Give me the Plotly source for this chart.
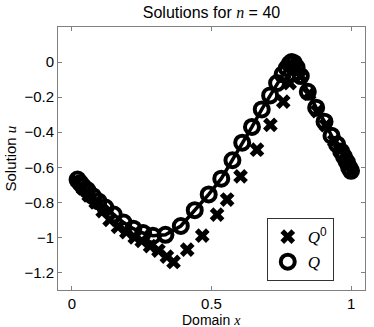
import plotly.graph_objects as go

# adapted mesh Q: positions and solution values
q_x = [0.020, 0.030, 0.040, 0.055, 0.075, 0.095, 0.120, 0.150, 0.185, 0.220,
       0.255, 0.290, 0.335, 0.390, 0.440, 0.490, 0.535, 0.575, 0.610, 0.645,
       0.680, 0.710, 0.735, 0.755, 0.770, 0.780, 0.787, 0.795, 0.805, 0.820,
       0.845, 0.875, 0.905, 0.930, 0.950, 0.965, 0.975, 0.985, 0.993, 1.000]
q_u = [-0.67, -0.69, -0.71, -0.73, -0.765, -0.795, -0.83, -0.87, -0.915, -0.95,
       -0.975, -0.99, -0.985, -0.935, -0.845, -0.755, -0.665, -0.56, -0.46, -0.37,
       -0.27, -0.19, -0.12, -0.07, -0.035, -0.01, 0.0, -0.005, -0.03, -0.08,
       -0.17, -0.26, -0.34, -0.42, -0.47, -0.51, -0.54, -0.57, -0.60, -0.62]

# initial mesh Q^0
q0_x = [0.020, 0.040, 0.060, 0.085, 0.110, 0.135, 0.165, 0.195, 0.225, 0.250,
        0.280, 0.310, 0.340, 0.364, 0.413, 0.467, 0.520, 0.556, 0.604, 0.663,
        0.711, 0.757, 0.780, 0.790, 0.800, 0.820, 0.850, 0.880, 0.910, 0.940,
        0.960, 0.980, 1.000]
q0_u = [-0.68, -0.72, -0.76, -0.80, -0.85, -0.90, -0.94, -0.97, -1.00, -1.02,
        -1.05, -1.075, -1.11, -1.14, -1.07, -0.99, -0.87, -0.784, -0.652, -0.50,
        -0.358, -0.226, -0.12, -0.03, -0.02, -0.08, -0.18, -0.28, -0.36, -0.45,
        -0.50, -0.56, -0.62]

x_ticks = [0, 0.5, 1]
y_ticks = [0, -0.2, -0.4, -0.6, -0.8, -1, -1.2]


def math(s):
    # LaTeX-like italic serif for math symbols
    return f"<span style='font-family:Liberation Serif'><i>{s}</i></span>"


fig = go.Figure()

fig.add_trace(go.Scatter(x=q_x, y=q_u, mode='lines', showlegend=False,
                         line=dict(color='black', width=3.5)))
fig.add_trace(go.Scatter(x=q0_x, y=q0_u, mode='markers', name=math('Q') + '<sup>0</sup>',
                         marker=dict(symbol='x', size=13, color='black',
                                     line=dict(width=0))))
fig.add_trace(go.Scatter(x=q_x, y=q_u, mode='markers', name=math('Q'),
                         marker=dict(symbol='circle-open', size=14, color='black',
                                     line=dict(width=4))))

axis_common = dict(showgrid=False, zeroline=False, showline=True, mirror='ticks',
                   linecolor='#7f7f7f', linewidth=1, ticks='inside', ticklen=4,
                   tickcolor='#7f7f7f', tickfont=dict(size=15, color='black'))

fig.update_layout(
    width=374, height=327,
    font=dict(family='Liberation Sans', size=15, color='black'),
    paper_bgcolor='white', plot_bgcolor='white',
    margin=dict(l=58, r=9, t=27, b=37),
    title=dict(text='Solutions for ' + math('n') + ' = 40', x=0.5, xref='paper',
               xanchor='center', y=0.963, yanchor='middle', font=dict(size=16)),
    xaxis=dict(range=[-0.05, 1.05], tickvals=x_ticks, **axis_common),
    yaxis=dict(range=[-1.3, 0.2], tickvals=y_ticks, **axis_common),
    legend=dict(x=0.68, y=0.034, xanchor='left', yanchor='bottom',
                bgcolor='white', bordercolor='#333333', borderwidth=1,
                font=dict(size=17), itemwidth=30, tracegroupgap=0),
    annotations=[
        dict(text='Domain ' + math('x'), xref='paper', yref='paper', x=0.5, y=0,
             xanchor='center', yanchor='top', yshift=-20, showarrow=False,
             font=dict(size=14)),
        dict(text='Solution ' + math('u'), xref='paper', yref='paper', x=0, y=0.5,
             xanchor='center', yanchor='middle', xshift=-48, textangle=-90,
             showarrow=False, font=dict(size=15)),
    ],
)

fig.write_html("out.html", config={'displayModeBar': False},
               post_script="document.body.style.margin='0';")
